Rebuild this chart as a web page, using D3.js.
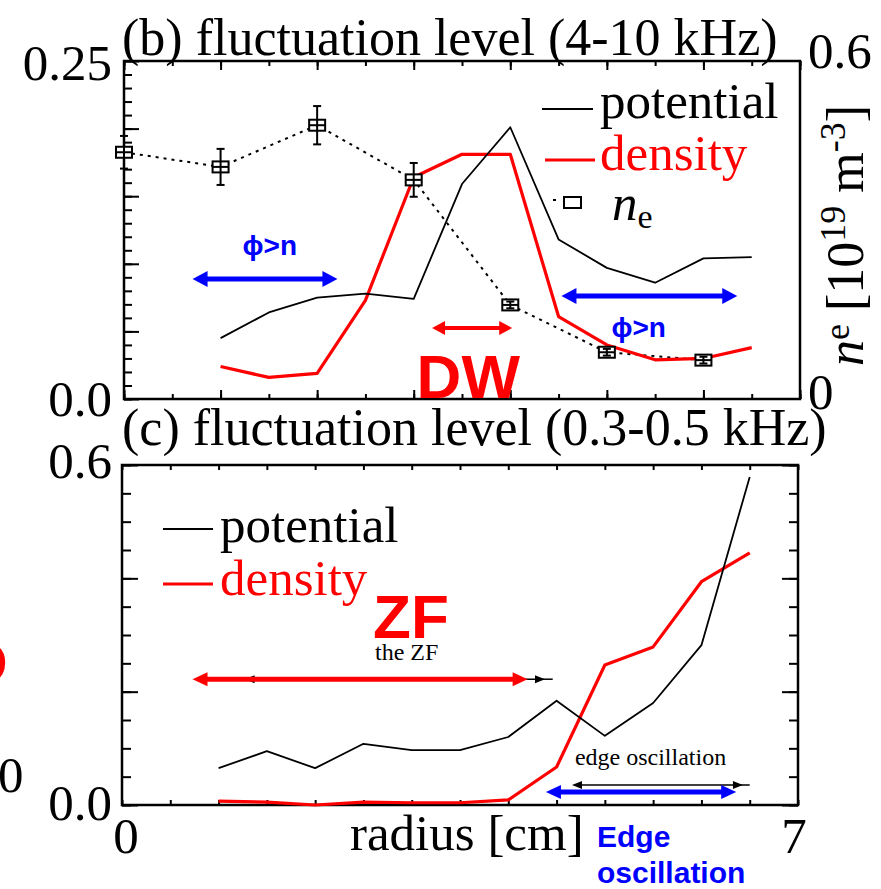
<!DOCTYPE html>
<html>
<head>
<meta charset="utf-8">
<script src="https://cdn.jsdelivr.net/npm/d3@7"></script>
<style>
  body { margin: 0; background: #fff; }
  svg { display: block; }
  text { font-family: "Liberation Serif", "Times New Roman", serif; }
  .sans { font-family: "Liberation Sans", Arial, sans-serif; font-weight: bold; }
</style>
</head>
<body>
<svg id="chart" width="881" height="889"></svg>
<script>
// radius positions of the fluctuation profiles [cm]
const radius = [1, 1.5, 2, 2.5, 3, 3.5, 4, 4.5, 5, 5.5, 6, 6.5];

// (b) 4-10 kHz fluctuation level
const potentialB = [0.045, 0.064, 0.075, 0.078, 0.074, 0.159, 0.201, 0.118, 0.097, 0.086, 0.104, 0.105];
const densityB   = [0.024, 0.016, 0.019, 0.073, 0.164, 0.181, 0.181, 0.061, 0.040, 0.029, 0.030, 0.038];

// electron density n_e [10^19 m^-3] with error bars
const neRadius = [0, 1, 2, 3, 4, 5, 6];
const neValue  = [0.438, 0.412, 0.486, 0.389, 0.167, 0.083, 0.069];
const neError  = [0.029, 0.032, 0.034, 0.030, 0.006, 0.006, 0.006];

// (c) 0.3-0.5 kHz fluctuation level
const potentialC = [0.065, 0.095, 0.065, 0.108, 0.097, 0.097, 0.120, 0.184, 0.122, 0.180, 0.282, 0.579];
const densityC   = [0.007, 0.005, 0.000, 0.005, 0.004, 0.004, 0.009, 0.067, 0.247, 0.279, 0.394, 0.445];

const titleB = "(b) fluctuation level (4-10 kHz)";
const titleC = "(c) fluctuation level (0.3-0.5 kHz)";

const svg = d3.select("#chart");

/* scales */
var xB = d3.scaleLinear().domain([0, 7]).range([124, 800]);
var yB = d3.scaleLinear().domain([0, 0.25]).range([399, 61]);
var yNe = d3.scaleLinear().domain([0, 0.6]).range([399, 61]);
var xC = d3.scaleLinear().domain([0, 7]).range([122, 798]);
var yC = d3.scaleLinear().domain([0, 0.6]).range([805, 465]);

const xMinor = d3.range(0, 7.01, 0.5);
const xMajor = d3.range(0, 7.01, 1);

// inward pointing ticks, labels are drawn separately
function ticks(axisFn, scale, values, size, transform) {
    svg.append("g")
        .attr("transform", transform)
        .call(axisFn(scale).tickValues(values).tickSize(-size).tickFormat(""))
        .call(g => g.select(".domain").remove())
        .selectAll("line").attr("stroke", "#000").attr("stroke-width", 2);
}

/* panel (b) axes */
ticks(d3.axisLeft, yB, d3.range(0, 0.2501, 0.01), 8, "translate(124,0)");
ticks(d3.axisLeft, yB, d3.range(0, 0.2501, 0.05), 15, "translate(124,0)");
ticks(d3.axisBottom, xB, xMinor, 5, "translate(0,399)");
ticks(d3.axisBottom, xB, xMajor, 9, "translate(0,399)");
ticks(d3.axisTop, xB, xMinor, 5, "translate(0,61)");
ticks(d3.axisTop, xB, xMajor, 9, "translate(0,61)");

/* panel (c) axes */
ticks(d3.axisLeft, yC, d3.range(0, 0.601, 0.05), 9, "translate(122,0)");
ticks(d3.axisLeft, yC, d3.range(0, 0.601, 0.2), 16, "translate(122,0)");
ticks(d3.axisRight, yC, d3.range(0, 0.601, 0.05), 9, "translate(798,0)");
ticks(d3.axisRight, yC, d3.range(0, 0.601, 0.2), 16, "translate(798,0)");
ticks(d3.axisBottom, xC, xMinor, 5, "translate(0,805)");
ticks(d3.axisTop, xC, xMinor, 5, "translate(0,465)");

// frames
svg.append("rect")
    .attr("x", xB(0)).attr("y", yB(0.25))
    .attr("width", xB(7) - xB(0)).attr("height", yB(0) - yB(0.25))
    .attr("fill", "none").attr("stroke", "#000").attr("stroke-width", 2.5);
svg.append("rect")
    .attr("x", xC(0)).attr("y", yC(0.6))
    .attr("width", xC(7) - xC(0)).attr("height", yC(0) - yC(0.6))
    .attr("fill", "none").attr("stroke", "#000").attr("stroke-width", 2.5);

/* lines */
function profile(x, y, vals, color, w) {
    svg.append("path")
        .datum(vals)
        .attr("fill", "none")
        .attr("stroke", color)
        .attr("stroke-width", w)
        .attr("stroke-linejoin", "round")
        .attr("d", d3.line().x((d, i) => x(radius[i])).y(d => y(d)));
}

// n_e dotted line + markers
svg.append("path")
    .datum(neValue)
    .attr("fill", "none").attr("stroke", "#000").attr("stroke-width", 2)
    .attr("stroke-dasharray", "3,5")
    .attr("d", d3.line().x((d, i) => xB(neRadius[i])).y(d => yNe(d)));

profile(xB, yB, densityB, "#ff0000", 3.2);
profile(xB, yB, potentialB, "#000", 1.8);

var marks = svg.append("g").selectAll("g")
    .data(neValue)
    .enter().append("g")
    .attr("transform", (d, i) => "translate(" + xB(neRadius[i]) + "," + yNe(d) + ")");
marks.append("rect")
    .attr("x", -8).attr("y", -5.5).attr("width", 16).attr("height", 11)
    .attr("fill", "#fff").attr("stroke", "#000").attr("stroke-width", 2);
marks.append("line")
    .attr("x1", -8).attr("x2", 8)
    .attr("stroke", "#000").attr("stroke-width", 2);
marks.append("line")
    .attr("y1", (d, i) => yNe(d - neError[i]) - yNe(d))
    .attr("y2", (d, i) => yNe(d + neError[i]) - yNe(d))
    .attr("stroke", "#000").attr("stroke-width", 2);
[-1, 1].forEach(s => {
    marks.append("line")
        .attr("x1", -4).attr("x2", 4)
        .attr("y1", (d, i) => yNe(d + s * neError[i]) - yNe(d))
        .attr("y2", (d, i) => yNe(d + s * neError[i]) - yNe(d))
        .attr("stroke", "#000").attr("stroke-width", 2);
});

profile(xC, yC, densityC, "#ff0000", 3.2);
profile(xC, yC, potentialC, "#000", 1.8);

/* double arrows */
function arrow(x1, x2, y, color, w, head, half) {
    var g = svg.append("g");
    g.append("line")
        .attr("x1", x1 + head * 0.8).attr("x2", x2 - head * 0.8)
        .attr("y1", y).attr("y2", y)
        .attr("stroke", color).attr("stroke-width", w);
    g.append("path")
        .attr("d", "M" + x1 + "," + y + "L" + (x1 + head) + "," + (y - half) + "L" + (x1 + head) + "," + (y + half) + "Z")
        .attr("fill", color);
    g.append("path")
        .attr("d", "M" + x2 + "," + y + "L" + (x2 - head) + "," + (y - half) + "L" + (x2 - head) + "," + (y + half) + "Z")
        .attr("fill", color);
    return g;
}

arrow(xB(0.71), xB(2.21), yB(0.0888), "#0000ff", 5, 15, 8);
arrow(xB(4.53), xB(6.35), yB(0.0762), "#0000ff", 5, 15, 8);
arrow(xB(3.19), xB(4.02), yB(0.0525), "#ff0000", 4, 13, 7);

// ZF arrows (thin black under thick red)
arrow(xC(1.27), xC(4.38), yC(0.222), "#000", 1.5, 10, 4);
svg.append("line")
    .attr("x1", xC(4.3)).attr("x2", xC(4.46))
    .attr("y1", yC(0.222)).attr("y2", yC(0.222))
    .attr("stroke", "#000").attr("stroke-width", 1.5);
arrow(xC(0.73), xC(4.2), yC(0.222), "#ff0000", 5, 15, 7);

// edge oscillation arrows
arrow(xC(4.66), xC(6.43), yC(0.0353), "#000", 1.5, 10, 4);
svg.append("line")
    .attr("x1", xC(6.4)).attr("x2", xC(6.5))
    .attr("y1", yC(0.0353)).attr("y2", yC(0.0353))
    .attr("stroke", "#000").attr("stroke-width", 1.5);
arrow(xC(4.39), xC(6.36), yC(0.0229), "#0000ff", 5, 15, 7);

/* texts */
function label(x, y, txt, size, opts) {
    opts = opts || {};
    return svg.append("text")
        .attr("x", x).attr("y", y)
        .attr("font-size", size)
        .attr("fill", opts.fill || "#000")
        .attr("text-anchor", opts.anchor || "start")
        .attr("class", opts.cls || null)
        .text(txt);
}

label(122, 55, titleB, 52);
label(122, 445, titleC, 52);

// tick labels
label(112, 80, "0.25", 51, {anchor: "end"});
label(112, 416, "0.0", 51, {anchor: "end"});
label(808, 68, "0.6", 51);
label(808, 409, "0", 51);
label(112, 478, "0.6", 51, {anchor: "end"});
label(112, 820, "0.0", 51, {anchor: "end"});
label(126, 853, "0", 51, {anchor: "middle"});
label(794, 853, "7", 51, {anchor: "middle"});
label(350, 850, "radius [cm]", 51);

// stray pieces cut at the left border
label(-2, 792, "0", 51);
label(-37, 684, "D", 62, {fill: "#ff0000", cls: "sans"});

// right axis title
var rl = svg.append("text")
    .attr("transform", "translate(863,366) rotate(-90)")
    .attr("font-size", 52);
rl.append("tspan").attr("font-style", "italic").text("n");
rl.append("tspan").attr("font-size", 36).attr("dy", -14).text("e");
rl.append("tspan").attr("dy", 14).text(" [10");
rl.append("tspan").attr("font-size", 36).attr("dy", -18).text("19");
rl.append("tspan").attr("dy", 18).text(" m");
rl.append("tspan").attr("font-size", 36).attr("dy", -18).text("-3");
rl.append("tspan").attr("dy", 18).text("]");

// legend (b)
svg.append("line").attr("x1", 542).attr("x2", 593).attr("y1", 109).attr("y2", 109)
    .attr("stroke", "#000").attr("stroke-width", 1.8);
label(600, 118, "potential", 51);
svg.append("line").attr("x1", 545).attr("x2", 595).attr("y1", 160).attr("y2", 160)
    .attr("stroke", "#ff0000").attr("stroke-width", 3.2);
label(600, 170, "density", 51, {fill: "#ff0000"});
svg.append("rect").attr("x", 564).attr("y", 197).attr("width", 17).attr("height", 11)
    .attr("fill", "#fff").attr("stroke", "#000").attr("stroke-width", 2);
svg.append("line").attr("x1", 553).attr("x2", 556).attr("y1", 200).attr("y2", 200)
    .attr("stroke", "#000").attr("stroke-width", 2);
var ne = svg.append("text").attr("x", 612).attr("y", 220).attr("font-size", 51);
ne.append("tspan").attr("font-style", "italic").text("n");
ne.append("tspan").attr("font-size", 34).attr("dy", 8).text("e");

// legend (c)
svg.append("line").attr("x1", 163).attr("x2", 213).attr("y1", 529).attr("y2", 529)
    .attr("stroke", "#000").attr("stroke-width", 1.8);
label(220, 542, "potential", 51);
svg.append("line").attr("x1", 163).attr("x2", 213).attr("y1", 584).attr("y2", 584)
    .attr("stroke", "#ff0000").attr("stroke-width", 3.2);
label(220, 595, "density", 51, {fill: "#ff0000"});

// annotations (b)
label(xB(1.51), yB(0.1065), "\u03d5>n", 28, {fill: "#0000ff", anchor: "middle", cls: "sans"});
label(xB(5.33), yB(0.0459), "\u03d5>n", 28, {fill: "#0000ff", anchor: "middle", cls: "sans"});
label(xB(3.03), yB(0.0007), "DW", 62, {fill: "#ff0000", cls: "sans"});

// annotations (c)
label(xC(2.6), yC(0.2947), "ZF", 62, {fill: "#ff0000", cls: "sans"});
label(xC(2.62), yC(0.256), "the ZF", 24);
label(xC(4.69), yC(0.0706), "edge oscillation", 24);
label(597, 847, "Edge", 30, {fill: "#0000ff", cls: "sans"});
label(597, 883, "oscillation", 30, {fill: "#0000ff", cls: "sans"});
</script>
</body>
</html>
